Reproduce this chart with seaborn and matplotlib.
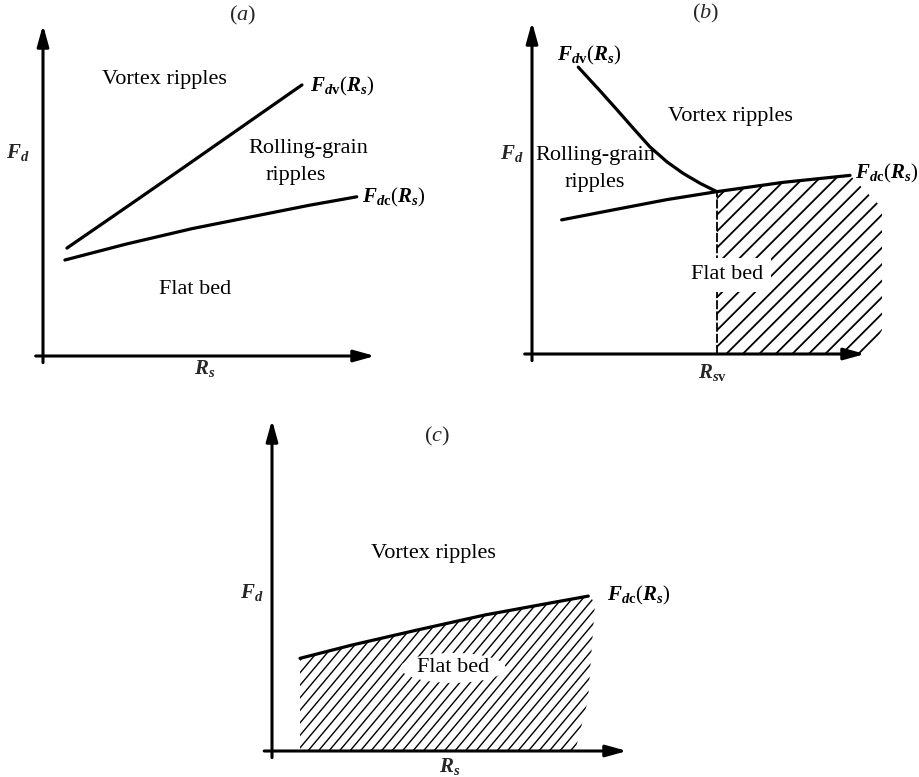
import numpy as np
import matplotlib
matplotlib.use("Agg")
import matplotlib.pyplot as plt
import seaborn as sns
from matplotlib.collections import LineCollection
from matplotlib.patches import Polygon

# ---------------------------------------------------------------
# Threshold curves F_d(R_s) in schematic units (axes run 0..10)
# ---------------------------------------------------------------
# (a) vortex threshold above the rolling-grain threshold everywhere
a_dv_x = [0.72, 2.40, 4.10, 5.90, 7.80]
a_dv_y = [3.26, 4.42, 5.60, 6.86, 8.19]
a_dc_x = [0.66, 2.50, 4.50, 6.50, 8.00, 9.45]
a_dc_y = [2.90, 3.38, 3.85, 4.25, 4.55, 4.81]

# (b) vortex threshold falls and meets F_dc at R_sv
b_dv_x = [1.39, 2.04, 2.54, 3.04, 3.54, 4.05, 4.54, 5.05, 5.55]
b_dv_y = [8.64, 7.93, 7.37, 6.80, 6.24, 5.79, 5.44, 5.14, 4.89]
b_dc_x = [0.89, 2.54, 4.05, 5.55, 7.54, 9.55]
b_dc_y = [4.04, 4.36, 4.65, 4.89, 5.17, 5.38]
b_rsv = 5.55
b_flat_x = [5.55, 7.54, 9.55, 10.51, 10.51, 10.09, 5.55]
b_flat_y = [4.89, 5.17, 5.38, 4.40, 0.72, 0.00, 0.00]

# (c) only one threshold
c_dc_x = [0.79, 2.25, 4.11, 6.00, 7.88, 8.91]
c_dc_y = [2.80, 3.20, 3.66, 4.11, 4.48, 4.68]
c_flat_x = [0.79, 2.25, 4.11, 6.00, 7.88, 8.91, 9.10, 8.90, 8.54, 0.79]
c_flat_y = [2.80, 3.20, 3.66, 4.11, 4.48, 4.68, 4.50, 1.54, 0.00, 0.00]

sns.set_theme(style="white")
plt.rcParams["font.family"] = ["Liberation Serif", "DejaVu Serif"]
plt.rcParams["mathtext.fontset"] = "custom"
plt.rcParams["mathtext.rm"] = "Liberation Serif"
plt.rcParams["mathtext.it"] = "Liberation Serif:italic"
plt.rcParams["mathtext.bf"] = "Liberation Serif:bold"
plt.rcParams["mathtext.bfit"] = "Liberation Serif:italic:bold"

W, H = 919, 777
fig = plt.figure(figsize=(W / 100, H / 100), dpi=100)


def make_axes(ox, oy, tx, ty):
    """Axes whose (0,0) sits at pixel (ox, oy) and (10,10) at (tx, ty)."""
    ax = fig.add_axes([ox / W, (H - oy) / H, (tx - ox) / W, (oy - ty) / H])
    ax.set_xlim(0, 10)
    ax.set_ylim(0, 10)
    ax.set_axis_off()
    return ax


def draw_frame(ax, x0=-0.22, y0=-0.2):
    arrow = dict(arrowstyle="-|>,head_length=0.9,head_width=0.25",
                 lw=2.2, color="black", shrinkA=0, shrinkB=0, mutation_scale=14)
    ax.annotate("", xy=(10, 0), xytext=(x0, 0), arrowprops=arrow,
                annotation_clip=False)
    ax.annotate("", xy=(0, 10), xytext=(0, y0), arrowprops=arrow,
                annotation_clip=False)


def curve(ax, x, y):
    sns.lineplot(x=x, y=y, ax=ax, color="black", lw=2.3, sort=False,
                 estimator=None, legend=False)


def hatch(ax, xs, ys, spacing, angle, lw=1.0):
    """Parallel slanted lines clipped to the polygon (xs, ys)."""
    poly = Polygon(np.column_stack([xs, ys]), closed=True,
                   facecolor="none", edgecolor="none")
    ax.add_patch(poly)
    pts = ax.transData.transform(np.column_stack([xs, ys]))
    xmin, ymin = pts.min(axis=0) - 5
    xmax, ymax = pts.max(axis=0) + 5
    cot = 1.0 / np.tan(np.radians(angle))
    inv = ax.transData.inverted()
    segs = []
    for c in np.arange(xmin - ymax * cot, xmax - ymin * cot, spacing):
        p0 = (c + ymin * cot, ymin)
        p1 = (c + ymax * cot, ymax)
        segs.append(inv.transform([p0, p1]))
    lc = LineCollection(segs, colors="black", linewidths=lw, zorder=1.5)
    ax.add_collection(lc, autolim=False)
    lc.set_clip_box(None)
    lc.set_clip_path(poly)


label_kw = dict(fontsize=16, color="black")
math_kw = dict(fontsize=15, color="black")

FDV = r"$\mathbfit{F}_{\mathbfit{d}\mathbf{v}}(\mathbfit{R}_{\mathbfit{s}})$"
FDC = r"$\mathbfit{F}_{\mathbfit{d}\mathbf{c}}(\mathbfit{R}_{\mathbfit{s}})$"
FD = r"$\mathbfit{F}_{\mathbfit{d}}$"
RS = r"$\mathbfit{R}_{\mathbfit{s}}$"

# ---------------- (a) ----------------
ax = make_axes(43, 356, 375, 25)
draw_frame(ax)
curve(ax, a_dv_x, a_dv_y)
curve(ax, a_dc_x, a_dc_y)
ax.text(6.02, 10.30, r"$(\mathit{a})$", ha="center", va="center", fontsize=16)
ax.text(3.67, 8.34, "Vortex ripples", ha="center", va="center", **label_kw)
ax.text(7.98, 6.28, "Rolling-grain", ha="center", va="center", **label_kw)
ax.text(7.62, 5.44, "ripples", ha="center", va="center", **label_kw)
ax.text(4.58, 2.02, "Flat bed", ha="center", va="center", **label_kw)
ax.text(8.04, 8.13, FDV, ha="left", va="center", **math_kw)
ax.text(9.61, 4.80, FDC, ha="left", va="center", **math_kw)
ax.text(-0.75, 6.15, FD, ha="center", va="center", fontsize=15)
ax.text(4.88, -0.38, RS, ha="center", va="center", fontsize=15)

# ---------------- (b) ----------------
ax = make_axes(532, 354, 865, 22)
draw_frame(ax)
hatch(ax, b_flat_x, b_flat_y, spacing=16.5, angle=45, lw=1.3)
curve(ax, b_dv_x, b_dv_y)
curve(ax, b_dc_x, b_dc_y)
ax.plot([b_rsv, b_rsv], [0, b_dc_y[b_dc_x.index(b_rsv)]], color="black",
        lw=1.3, ls=(0, (5, 1.2)))
ax.text(5.20, 10.27, r"$(\mathit{b})$", ha="center", va="center", fontsize=16)
ax.text(5.95, 7.14, "Vortex ripples", ha="center", va="center", **label_kw)
ax.text(1.89, 5.99, "Rolling-grain", ha="center", va="center", **label_kw)
ax.text(1.89, 5.18, "ripples", ha="center", va="center", **label_kw)
ax.text(5.86, 2.38, "Flat bed", ha="center", va="center",
        bbox=dict(boxstyle="square,pad=0.35", fc="white", ec="none"), **label_kw)
ax.text(0.75, 9.00, FDV, ha="left", va="center", **math_kw)
ax.text(9.70, 5.45, FDC, ha="left", va="center", **math_kw)
ax.text(-0.60, 6.05, FD, ha="center", va="center", fontsize=15)
ax.text(5.41, -0.57, r"$\mathbfit{R}_{\mathbfit{s}\mathbf{v}}$", ha="center",
        va="center", fontsize=15)

# ---------------- (c) ----------------
ax = make_axes(272, 751, 627, 420)
draw_frame(ax)
hatch(ax, c_flat_x, c_flat_y, spacing=10.5, angle=50, lw=1.0)
curve(ax, c_dc_x, c_dc_y)
ax.text(4.65, 9.49, r"$(\mathit{c})$", ha="center", va="center", fontsize=16)
ax.text(4.54, 5.98, "Vortex ripples", ha="center", va="center", **label_kw)
ax.text(5.10, 2.51, "Flat bed", ha="center", va="center",
        bbox=dict(boxstyle="ellipse,pad=0.05", fc="white", ec="none"), **label_kw)
ax.text(9.44, 4.71, FDC, ha="left", va="center", **math_kw)
ax.text(-0.56, 4.80, FD, ha="center", va="center", fontsize=15)
ax.text(5.01, -0.48, RS, ha="center", va="center", fontsize=15)

fig.savefig("out.png", dpi=100, facecolor="white")
